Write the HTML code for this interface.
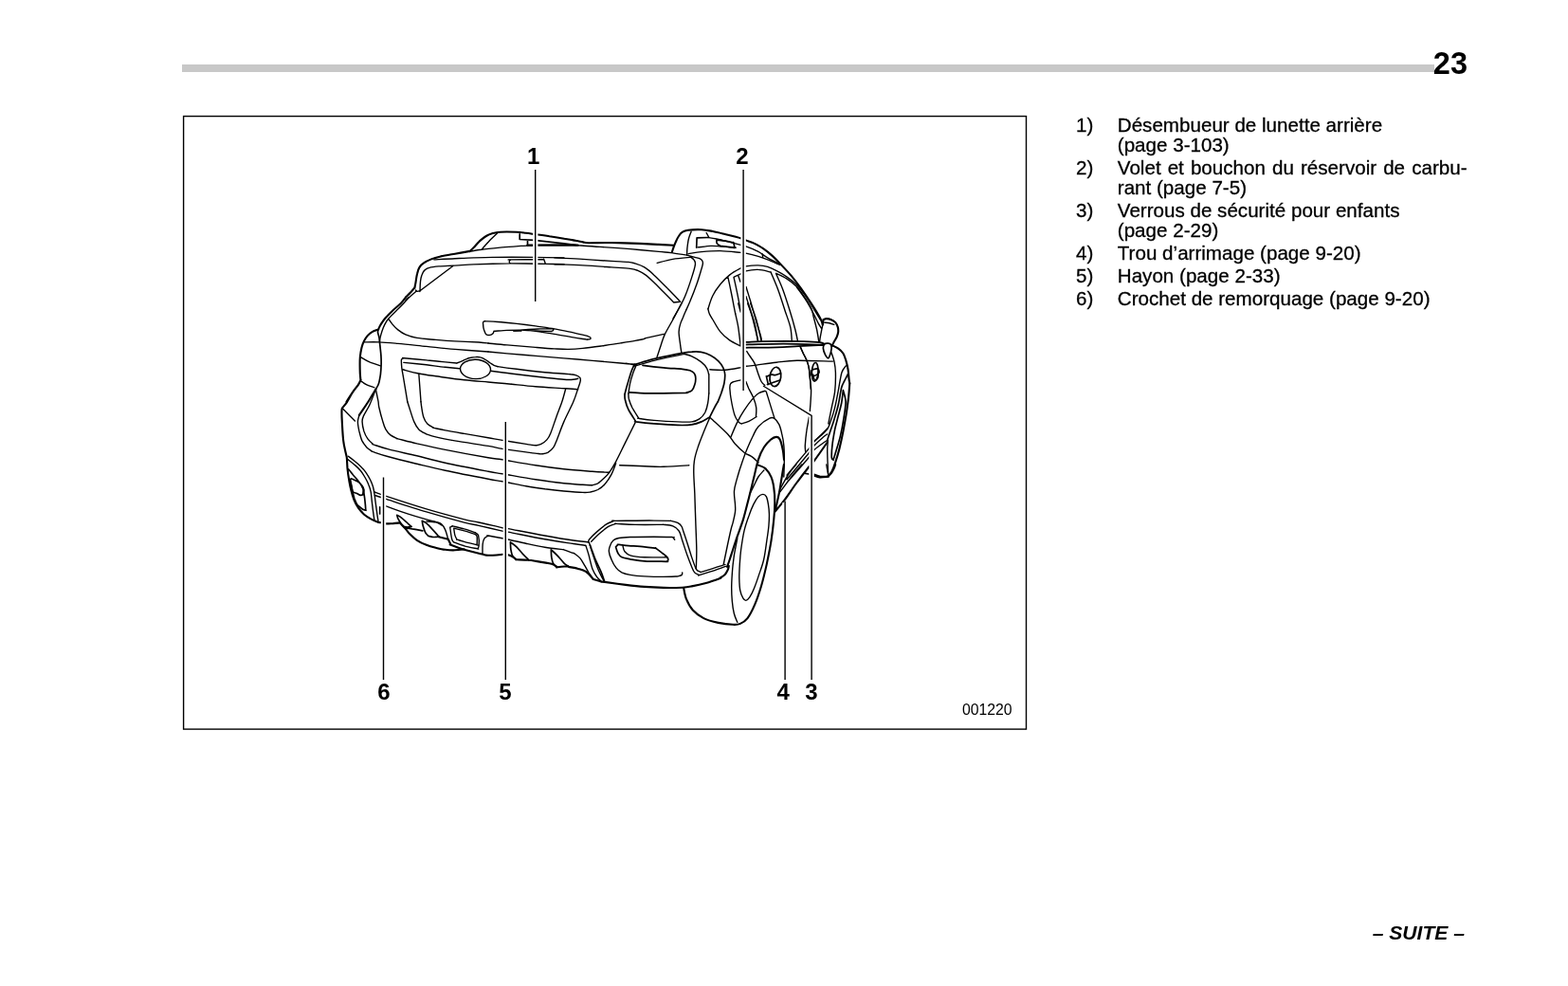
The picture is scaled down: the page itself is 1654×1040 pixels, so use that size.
<!DOCTYPE html>
<html lang="fr">
<head>
<meta charset="utf-8">
<title>23</title>
<style>
html,body{margin:0;padding:0;background:#fff;}
body{width:1654px;height:1040px;position:relative;overflow:hidden;font-family:"Liberation Sans",sans-serif;color:#000;}
.bar{position:absolute;left:192px;top:68px;width:1320.5px;height:8px;background:#c8c8c8;}
.pg{will-change:transform;position:absolute;left:1448px;width:100px;top:49px;font-size:32.5px;line-height:36px;font-weight:bold;text-align:right;white-space:nowrap;}
.fig{will-change:transform;position:absolute;left:0;top:0;width:1654px;height:1040px;}
.list{position:absolute;left:0;top:0;width:1654px;height:400px;will-change:transform;margin:0;padding:0;list-style:none;font-size:20.6px;line-height:24px;}
.list li{margin:0;padding:0;}
.list span{position:absolute;white-space:nowrap;-webkit-text-stroke:0.3px #000;}
.list .n{left:1135px;}
.list .t{left:1178.8px;}
.suite{will-change:transform;position:absolute;left:1344.5px;width:200px;top:972px;font-size:21.1px;line-height:24px;font-weight:bold;font-style:italic;text-align:right;white-space:nowrap;}
svg text{font-family:"Liberation Sans",sans-serif;}
</style>
</head>
<body>
<div class="bar"></div>
<div class="pg">23</div>
<svg class="fig" viewBox="0 0 1654 1040" width="1654" height="1040">
<rect x="193.6" y="122.6" width="888.9" height="646.5" fill="none" stroke="#000" stroke-width="1.4"/>
<g id="car" fill="none" stroke="#000" stroke-width="1.1" stroke-linecap="round" stroke-linejoin="round">
<ellipse cx="501.5" cy="389.4" rx="16.0" ry="10.2" transform="rotate(2.0 501.5 389.4)" stroke-width="1.40" fill="none"/>
<ellipse cx="817.9" cy="397.4" rx="5.8" ry="10.2" transform="rotate(8.0 817.9 397.4)" stroke-width="1.70" fill="none"/>
<ellipse cx="859.7" cy="392.3" rx="3.3" ry="9.8" transform="rotate(3.0 859.7 392.3)" stroke-width="1.70" fill="none"/>
<path stroke-width="2.10" d="M428.0 313.6C429.0 312.6 432.4 309.2 434.0 307.5C435.6 305.8 436.9 304.0 437.5 303.3C437.5 303.3 437.3 304.2 437.5 303.3C437.6 302.4 438.1 300.3 438.5 297.8C438.9 295.4 439.3 291.5 440.0 288.9C440.6 286.2 441.3 283.8 442.5 281.9C443.6 280.0 444.9 278.8 447.0 277.4C449.0 276.0 451.9 274.6 454.9 273.4C457.9 272.2 460.8 271.4 464.9 270.4C469.1 269.5 474.7 268.6 479.9 267.7C485.0 266.8 493.2 265.4 495.8 264.9C495.8 264.9 495.2 265.6 495.8 264.9C496.5 264.3 498.2 262.7 499.8 260.9C501.5 259.2 503.7 256.4 505.8 254.4C508.0 252.5 510.5 250.4 512.8 249.0C515.1 247.5 517.3 246.7 519.8 246.0C522.3 245.3 523.6 244.9 527.8 244.7C531.9 244.5 540.2 244.6 544.7 244.8C549.2 245.0 551.4 245.4 554.7 245.8C558.0 246.2 560.5 246.6 564.7 247.2C568.8 247.7 574.6 248.4 579.6 249.2C584.7 249.9 592.4 251.2 595.0 251.7M595.0 251.7C596.6 252.0 601.6 252.8 605.0 253.4C608.3 254.1 612.3 255.0 614.9 255.4C617.6 255.9 615.9 256.1 620.9 256.2C625.9 256.3 635.9 255.9 644.9 256.0C653.8 256.2 666.5 256.6 674.8 256.9C683.1 257.3 688.8 257.6 694.7 257.9C700.7 258.2 708.0 258.6 710.7 258.7M708.8 265.9C709.1 265.1 709.9 262.6 710.5 260.9C711.1 259.3 711.6 257.9 712.5 255.9C713.4 253.9 714.7 250.8 716.0 249.0C717.2 247.1 718.3 245.7 720.0 244.7C721.6 243.6 722.6 243.1 725.9 242.7C729.3 242.3 735.6 242.0 739.9 242.2C744.2 242.4 747.7 243.2 751.9 244.0C756.0 244.8 759.9 245.8 764.8 247.0C769.7 248.2 777.6 250.1 781.3 251.2C785.0 252.2 784.5 252.6 786.8 253.4C789.0 254.3 791.8 255.0 794.8 256.4C797.8 257.9 801.4 259.7 804.7 261.9C808.1 264.2 811.7 267.2 814.7 269.9C817.7 272.6 819.4 274.4 822.7 277.9C826.0 281.4 831.0 286.5 834.7 290.9C838.3 295.2 841.2 299.0 844.7 303.8C848.1 308.6 852.2 314.6 855.6 319.8C859.0 325.0 863.0 331.5 865.0 335.3C867.0 339.0 867.4 341.2 867.8 342.4"/>
<path stroke-width="2.10" d="M428.0 313.6C427.1 314.7 425.0 317.8 422.8 320.0C420.6 322.2 417.5 324.5 414.8 327.0C412.2 329.5 409.0 332.5 406.9 335.0C404.7 337.5 403.2 339.8 401.9 341.9C400.5 344.1 399.4 346.7 398.9 347.6C398.9 347.6 399.9 347.3 398.9 347.6C397.9 348.0 394.7 348.9 392.9 349.9C391.1 351.0 389.4 352.3 387.9 353.9C386.4 355.6 385.0 357.7 383.9 359.9C382.8 362.1 382.1 364.2 381.4 366.9C380.8 369.5 380.2 372.9 379.9 375.9C379.6 378.9 379.6 381.9 379.6 384.8C379.6 387.8 379.7 391.1 379.8 393.8C380.0 396.5 380.3 399.8 380.4 401.0C380.4 401.0 380.8 400.2 380.4 401.0C380.0 401.8 379.3 403.7 377.9 405.8C376.5 407.9 374.0 410.8 371.9 413.8C369.9 416.8 366.5 422.1 365.5 423.8M867.8 342.4L868.6 337.2C868.6 337.2 868.0 337.3 868.6 337.2C869.1 337.0 870.4 336.1 871.8 336.1C873.2 336.1 875.3 336.5 876.9 337.2C878.5 337.8 880.1 338.7 881.3 340.1C882.4 341.4 883.3 343.4 883.8 345.1C884.3 346.8 884.3 348.5 884.2 350.2C884.0 351.9 883.4 353.6 882.7 355.3C882.0 357.0 880.7 358.8 879.8 360.4C879.0 362.0 878.0 364.2 877.6 365.0M877.1 364.0C878.3 364.6 882.3 366.2 884.3 367.6C886.4 369.1 888.1 370.7 889.4 372.7C890.7 374.8 891.5 377.2 892.3 380.0C893.1 382.8 893.9 386.0 894.5 389.4C895.0 392.8 895.3 397.8 895.6 400.3C895.9 402.8 896.2 403.6 896.3 404.2M380.4 401.0C380.0 401.8 379.3 403.7 377.9 405.8C376.5 407.9 373.9 410.8 371.9 413.8C370.0 416.8 368.0 421.0 366.2 423.8C364.3 426.6 361.8 429.3 361.0 430.5C361.0 430.5 361.1 430.0 361.0 430.5C360.9 430.9 360.5 430.5 360.5 433.0C360.4 435.4 360.5 439.6 360.8 444.9C361.1 450.2 361.5 459.5 362.2 464.9C362.8 470.3 364.0 474.3 364.6 477.3C365.2 480.3 365.4 479.9 365.8 482.7C366.1 485.5 366.2 490.4 366.5 494.2C366.9 498.1 367.4 501.9 368.1 505.8C368.7 509.6 369.5 513.7 370.4 517.3C371.3 520.9 372.2 524.2 373.5 527.3C374.7 530.4 376.3 533.2 378.1 535.8C379.9 538.3 382.1 540.8 384.2 542.7C386.4 544.6 388.8 546.0 391.2 547.3C393.5 548.6 396.3 549.7 398.1 550.4C399.9 551.1 400.4 551.0 401.9 551.3C403.5 551.6 405.2 552.2 407.4 552.4C409.5 552.5 412.4 552.2 414.8 552.1C417.3 551.9 420.7 551.5 421.8 551.4"/>
<path stroke-width="2.10" d="M396.4 410.5C395.8 411.4 394.2 414.1 392.9 416.3C391.6 418.5 390.7 420.2 388.4 423.8C386.1 427.4 380.5 435.6 378.9 437.9M767.0 597.8C767.5 596.5 768.8 592.9 769.8 590.0C770.8 587.0 771.8 583.7 773.0 580.0C774.2 576.3 775.2 573.2 777.0 567.8C778.8 562.5 781.8 555.0 784.0 547.9C786.1 540.7 788.1 532.1 790.0 524.9C791.8 517.8 793.3 511.7 794.9 505.0C796.6 498.3 798.1 490.3 799.9 484.8C801.7 479.3 803.7 475.3 805.9 471.8C808.1 468.3 810.7 465.7 812.9 463.8C815.0 462.0 817.2 460.9 818.9 460.9C820.5 460.9 821.7 461.5 822.8 463.8C824.0 466.2 825.1 471.3 825.8 474.8C826.5 478.3 826.8 483.1 827.0 484.8M817.4 539.9C819.1 537.7 824.1 531.9 827.9 526.9C831.6 521.9 835.7 515.6 839.8 510.0C844.0 504.3 850.6 495.8 852.8 493.0C855.0 490.2 852.1 494.2 853.1 493.0C854.1 491.9 855.6 490.5 858.8 486.1C862.1 481.7 870.4 469.8 872.7 466.5M826.9 490.0C826.4 492.5 825.2 500.0 824.4 505.0C823.5 510.0 823.0 514.4 821.9 519.9C820.8 525.4 818.6 534.9 817.9 537.9M896.3 404.2C896.1 406.5 895.7 412.9 895.2 418.1C894.6 423.3 893.8 429.2 892.9 435.4C891.9 441.5 890.6 448.6 889.4 455.0C888.2 461.3 886.7 468.0 885.4 473.4C884.0 478.8 882.7 483.2 881.3 487.3C880.0 491.3 878.6 495.1 877.3 497.7C875.9 500.2 873.9 502.0 873.3 502.8C873.3 502.8 874.7 502.7 873.3 502.8C871.8 502.9 867.0 503.6 864.6 503.4C862.2 503.2 859.8 502.0 858.8 501.7M381.9 512.7C382.2 513.3 383.3 515.1 383.5 516.5C383.7 517.9 383.1 520.4 383.1 521.2M421.8 551.4C422.8 552.5 426.0 555.8 427.8 557.9C429.6 559.9 430.8 561.9 432.8 563.8C434.8 565.8 437.0 568.0 439.8 569.8C442.6 571.7 446.4 573.5 449.8 574.8C453.1 576.2 456.4 577.0 459.7 577.8C463.1 578.6 466.4 579.4 469.7 579.8C473.0 580.2 476.4 580.4 479.7 580.3C483.0 580.2 488.0 579.5 489.7 579.3"/>
<path stroke-width="2.10" d="M462.7 566.3L472.7 568.8C472.7 568.8 472.2 567.8 472.7 568.8C473.2 569.8 475.2 573.8 475.7 574.8C475.7 574.8 473.4 574.0 475.7 574.8C478.0 575.7 484.0 578.1 489.7 579.8C495.3 581.5 505.4 583.8 509.6 584.8C513.8 585.8 511.6 585.8 515.0 585.8C518.4 585.8 527.4 585.0 529.9 584.8M535.9 585.3C536.6 585.5 538.4 586.0 539.9 586.8C541.4 587.6 544.1 589.7 544.9 590.3C544.9 590.3 542.9 590.2 544.9 590.3C546.9 590.4 553.6 590.5 556.9 590.8C560.2 591.0 560.7 591.1 564.9 591.8C569.0 592.4 578.0 593.7 581.8 594.8C585.6 595.9 586.8 597.7 587.8 598.3C587.8 598.3 586.0 598.4 587.8 598.3C589.6 598.1 596.7 597.3 598.8 597.3C600.8 597.2 598.1 597.5 600.0 597.9C601.9 598.3 607.0 599.1 610.0 599.9C613.0 600.7 615.3 601.1 618.0 602.9C620.6 604.7 624.6 609.5 625.9 610.9C625.9 610.9 624.6 610.5 625.9 610.9C627.3 611.3 631.9 612.9 633.9 613.4C635.9 613.9 633.6 613.3 637.9 613.9C642.2 614.5 652.9 616.0 659.9 616.9C666.8 617.7 673.2 618.4 679.8 618.9C686.5 619.4 693.1 619.7 699.8 619.9C706.4 620.0 714.7 619.9 719.7 619.7C724.7 619.4 725.5 619.2 729.7 618.4C733.8 617.6 739.7 616.3 744.7 614.9C749.6 613.5 757.1 610.8 759.6 609.9C762.1 609.0 759.0 610.1 759.8 609.4C760.7 608.8 763.5 607.4 764.8 605.9C766.2 604.5 767.1 602.4 767.8 600.9C768.5 599.5 768.6 597.6 768.8 597.0M800.0 490.6C801.3 491.2 805.4 492.3 807.7 494.4C809.9 496.5 812.0 499.7 813.5 503.1C814.9 506.4 815.7 510.1 816.3 514.6C817.0 519.1 817.3 524.6 817.3 530.0C817.3 535.4 817.0 540.6 816.3 547.3C815.7 554.0 814.7 562.4 813.5 570.4C812.2 578.4 810.4 587.4 808.7 595.4C806.9 603.4 805.0 611.4 802.9 618.5C800.8 625.5 798.6 632.1 796.2 637.7C793.8 643.3 791.0 648.8 788.5 652.1C785.9 655.5 783.3 656.8 780.8 657.9C778.2 659.0 776.9 659.0 773.1 658.8C769.2 658.7 762.8 658.0 757.7 656.9C752.6 655.8 746.8 654.4 742.3 652.1C737.8 649.9 733.8 646.8 730.8 643.5C727.7 640.1 725.6 635.8 724.0 631.9C722.4 628.1 721.6 622.3 721.2 620.4"/>
<path stroke-width="2.10" d="M858.8 500.5C859.8 500.8 862.4 502.1 864.8 502.5C867.1 502.8 870.8 503.1 872.8 502.5C874.7 501.9 875.6 500.4 876.7 499.0C877.9 497.6 879.0 495.5 879.7 494.0C880.5 492.5 881.0 490.7 881.2 490.0"/>
<path stroke-width="1.40" d="M524.3 246.2C522.9 247.5 518.5 251.6 515.8 254.4C513.1 257.3 509.3 261.8 508.0 263.2M496.0 265.1C498.0 264.8 502.4 263.9 508.0 263.2C513.6 262.5 522.8 261.6 529.8 260.9C536.7 260.3 544.1 259.8 549.7 259.4C555.4 259.1 561.4 258.9 563.7 258.7M457.9 273.9C461.6 273.7 472.9 273.0 479.9 272.7C486.9 272.4 493.2 272.1 499.8 271.9C506.5 271.7 513.1 271.5 519.8 271.4C526.4 271.3 532.4 271.2 539.7 271.2C547.1 271.2 554.5 271.3 563.7 271.4C572.9 271.5 589.8 271.8 595.0 271.9M438.5 306.0C438.7 306.2 439.2 307.2 440.0 307.3C440.7 307.5 442.5 306.9 443.0 306.8C443.0 306.8 442.9 308.5 443.0 306.8C443.1 305.2 443.1 299.7 443.5 296.8C443.8 294.0 444.2 291.9 445.0 289.9C445.7 287.9 446.6 286.1 448.0 284.9C449.3 283.6 450.5 283.0 452.9 282.4C455.4 281.7 458.8 281.3 462.9 280.9C467.1 280.5 471.7 280.4 477.9 280.1C484.0 279.8 492.8 279.2 499.8 278.9C506.8 278.6 513.5 278.4 519.8 278.2C526.1 278.0 531.9 277.9 537.7 277.9C543.6 277.9 548.4 277.9 554.7 278.0C561.0 278.1 568.7 278.3 575.5 278.4C582.2 278.5 591.7 278.6 595.0 278.7M443.0 306.8L477.9 280.5M428.0 316.8L439.0 307.3M538.5 277.9C538.4 277.7 537.6 277.4 537.4 276.9C537.3 276.4 537.2 275.6 537.4 275.1C537.7 274.6 538.5 274.1 538.7 273.9C538.7 273.9 532.9 273.9 538.7 273.9C544.6 273.8 567.8 273.7 573.7 273.6C573.7 273.6 573.4 272.8 573.7 273.6C574.0 274.4 575.2 277.6 575.5 278.4M607.9 258.6C612.1 258.9 623.4 259.8 632.9 260.4C642.4 261.1 654.5 261.8 664.8 262.6C675.1 263.5 687.6 264.8 694.7 265.4C701.9 266.1 702.7 266.0 707.7 266.6C712.7 267.2 721.8 268.7 724.7 269.1"/>
<path stroke-width="1.40" d="M585.0 271.9C590.0 272.2 605.0 272.8 614.9 273.4C624.9 274.0 636.9 274.9 644.9 275.4C652.8 275.9 658.7 276.0 662.8 276.4C667.0 276.8 667.0 277.0 669.8 277.9C672.6 278.8 676.4 279.9 679.8 281.9C683.1 283.9 685.6 286.0 689.7 289.9C693.9 293.7 700.1 300.1 704.7 304.8C709.4 309.6 715.5 316.0 717.7 318.3M585.0 278.7C590.0 278.9 605.0 279.4 614.9 279.9C624.9 280.4 636.5 281.3 644.9 281.9C653.2 282.5 660.2 282.8 664.8 283.4C669.5 284.0 670.1 284.3 672.8 285.4C675.4 286.5 677.9 287.8 680.8 289.9C683.6 291.9 686.6 294.8 689.7 297.8C692.9 300.8 696.2 304.3 699.7 307.8C703.2 311.3 708.9 317.1 710.7 319.0M710.7 319.0L717.7 318.3M693.2 277.4C696.0 276.7 704.0 274.4 709.7 273.4C715.4 272.4 724.7 271.7 727.7 271.4M724.6 269.1C726.0 269.5 730.6 270.8 732.9 271.4C735.2 272.0 737.1 272.3 738.4 272.9C739.7 273.5 740.2 274.1 740.7 274.9C741.2 275.7 741.5 276.4 741.4 277.9C741.3 279.4 741.0 280.2 739.9 283.9C738.8 287.5 736.9 294.2 734.9 299.8C732.9 305.5 729.8 313.3 727.9 317.8C726.1 322.3 724.6 325.3 723.9 326.8M728.4 271.1C729.0 271.6 731.1 272.6 731.9 273.9C732.8 275.2 733.8 275.9 733.4 278.9C733.1 281.9 731.7 286.4 729.9 291.9C728.2 297.3 725.1 306.5 722.9 311.8C720.8 317.1 719.1 319.7 717.0 323.8C714.8 327.9 711.1 334.2 710.0 336.2M729.1 244.2C728.7 245.5 727.1 249.0 726.4 252.0C725.7 254.9 725.2 259.1 724.9 261.9C724.6 264.8 724.7 267.9 724.6 269.1M746.9 250.5C748.4 250.7 752.0 251.1 755.9 252.0C759.7 252.8 764.7 254.1 769.8 255.4C775.0 256.8 781.8 258.3 786.8 259.9C791.8 261.6 795.9 263.4 799.8 265.4C803.6 267.4 805.9 269.7 809.7 271.9C813.6 274.1 820.5 277.6 822.7 278.7"/>
<path stroke-width="1.40" d="M745.1 245.5L747.9 250.5M735.9 260.9C738.2 260.7 745.9 259.6 749.9 259.4C753.9 259.3 755.7 259.6 759.9 259.9C764.0 260.3 772.3 261.3 774.8 261.6M726.1 267.7C728.4 267.4 734.3 266.1 739.9 265.6C745.5 265.1 753.0 264.5 759.9 264.6C766.8 264.8 776.8 266.0 781.3 266.4C785.8 266.8 783.7 266.5 786.8 267.1C789.9 267.8 795.9 269.3 799.8 270.4C803.6 271.5 805.9 272.4 809.7 273.9C813.6 275.4 820.5 278.5 822.7 279.4M804.2 267.9L804.7 271.6M746.9 325.8C747.7 323.4 749.7 316.1 751.9 311.8C754.0 307.5 756.9 303.5 759.9 299.8C762.8 296.2 766.3 292.7 769.8 289.9C773.4 287.0 778.5 284.4 781.3 282.9C784.1 281.4 783.7 281.4 786.8 280.9C789.9 280.4 795.9 279.8 799.8 279.9C803.6 280.0 806.4 280.4 809.7 281.4C813.1 282.4 816.4 284.1 819.7 285.9C823.0 287.6 826.4 289.5 829.7 291.9C833.0 294.2 836.3 296.5 839.7 299.8C843.0 303.2 846.3 307.2 849.6 311.8C853.0 316.5 857.1 323.6 859.6 327.8C862.2 331.9 864.1 335.3 865.0 336.7M774.3 292.1C775.5 291.5 779.2 289.9 781.3 288.9C783.4 287.8 783.7 286.6 786.8 285.9C789.9 285.1 795.4 284.2 799.8 284.4C804.1 284.5 810.6 286.5 812.7 286.9M767.7 291.6C768.4 294.5 770.4 304.0 771.4 309.0C772.5 314.1 773.2 318.2 773.9 321.8C774.6 325.4 775.4 329.3 775.7 330.8M774.0 292.4C774.7 295.3 776.6 304.1 777.8 309.8C779.0 315.5 780.5 323.9 781.0 326.8M778.8 290.9L781.0 297.3M787.0 302.5C787.7 305.0 789.9 311.8 791.7 317.7C793.4 323.7 795.7 331.8 797.5 338.0C799.3 344.3 801.6 351.4 802.6 355.0C803.5 358.7 803.0 359.2 803.1 360.0M787.0 312.6C787.7 315.1 790.0 322.0 791.7 327.2C793.3 332.4 795.5 338.4 796.7 343.8C798.0 349.3 799.0 357.3 799.4 360.0"/>
<path stroke-width="1.40" d="M813.1 286.9C814.3 290.0 818.2 298.7 820.7 305.4C823.2 312.1 825.8 320.5 827.9 327.2C830.1 333.8 832.5 339.8 833.8 345.3C835.0 350.8 835.1 357.6 835.3 360.0M818.5 288.3C819.7 291.2 823.4 298.9 825.8 305.4C828.2 311.9 830.8 320.1 833.0 327.2C835.2 334.2 837.4 342.0 838.8 347.5C840.2 353.0 841.1 357.9 841.5 360.0M818.7 288.4C820.5 289.3 826.2 291.6 829.7 293.9C833.2 296.1 836.7 298.8 839.7 301.8C842.7 304.8 845.0 308.0 847.6 311.8C850.3 315.6 853.9 321.2 855.6 324.8C857.4 328.4 857.0 329.7 858.0 333.5C859.0 337.4 860.7 343.5 861.7 348.0C862.6 352.6 863.5 358.6 863.8 360.7M431.0 313.8C430.1 314.8 428.0 317.6 425.8 320.0C423.6 322.4 420.5 325.3 417.8 328.0C415.2 330.6 411.9 333.6 409.9 336.0C407.9 338.3 407.0 339.9 405.9 342.1C404.7 344.4 403.7 347.1 402.9 349.4C402.1 351.7 401.5 354.0 401.1 355.9C400.7 357.8 400.5 360.1 400.4 360.9M383.9 360.9C386.6 360.9 393.9 360.7 399.9 360.9C405.9 361.2 411.5 361.7 419.8 362.4C428.1 363.1 439.8 364.4 449.8 365.4C459.7 366.4 468.8 367.5 479.7 368.4C490.6 369.3 509.1 370.5 515.0 371.0M380.9 376.9C382.4 377.7 386.5 380.4 389.9 381.9C393.3 383.3 399.5 385.2 401.4 385.8M380.4 401.8C381.5 402.5 384.5 404.6 386.9 405.8C389.3 407.0 393.6 408.3 394.9 408.8M409.9 336.5C410.5 337.4 412.2 340.0 413.8 341.9C415.5 343.9 417.5 346.1 419.8 347.9C422.2 349.8 424.5 351.5 427.8 352.9C431.1 354.3 434.5 355.5 439.8 356.4C445.1 357.3 453.1 357.8 459.7 358.4C466.4 359.0 472.1 359.5 479.7 359.9C487.2 360.3 499.1 360.7 505.0 361.0C510.9 361.4 513.3 361.8 515.0 362.0M429.8 423.8C429.1 419.8 426.8 405.8 425.8 399.8C424.8 393.8 424.2 391.2 423.8 387.8C423.4 384.5 423.4 381.2 423.3 379.9C423.3 379.9 423.2 380.1 423.3 379.9C423.5 379.6 423.8 378.7 424.3 378.4C424.8 378.0 426.0 377.8 426.3 377.7C426.3 377.7 422.4 377.3 426.3 377.7C430.2 378.0 442.5 379.2 449.8 379.9C457.0 380.6 464.4 381.3 469.7 381.9C475.0 382.4 479.7 382.8 481.7 383.0C481.7 383.0 480.9 383.4 481.7 383.0C482.5 382.7 485.0 381.8 486.7 381.1C488.3 380.4 490.0 379.5 491.7 378.9C493.3 378.2 495.0 377.6 496.6 377.3C498.3 376.9 500.0 376.6 501.6 376.6C503.3 376.5 505.0 376.4 506.6 376.9C508.3 377.3 509.9 378.1 511.6 379.1C513.3 380.0 515.0 381.4 516.6 382.5C518.2 383.5 519.6 384.6 521.0 385.3C522.4 386.0 524.3 386.4 525.0 386.6"/>
<path stroke-width="1.40" d="M425.8 382.4C429.8 382.8 442.4 384.0 449.8 384.8C457.1 385.7 463.9 386.7 469.7 387.3C475.5 388.0 482.2 388.6 484.7 388.8M424.8 389.8C427.6 390.5 436.0 392.9 441.8 394.0C447.6 395.2 451.8 395.7 459.7 396.8C467.7 397.9 480.5 399.8 489.7 400.8C498.9 401.8 506.7 402.3 515.0 403.0C523.3 403.7 535.5 404.9 539.5 405.3M441.8 394.3L444.0 423.8M509.5 340.5C509.5 340.5 509.4 340.7 509.5 340.5C509.6 340.2 509.8 339.4 510.2 339.2C510.6 338.9 511.7 338.8 512.0 338.8C512.0 338.8 509.8 338.6 512.0 338.8C514.1 338.9 519.5 339.0 525.0 339.5C530.4 339.9 538.3 340.7 544.9 341.4C551.6 342.2 558.2 343.0 564.9 343.9C571.5 344.9 578.2 345.8 584.8 346.9C591.5 348.1 598.9 349.7 604.8 350.9C610.6 352.2 617.2 353.8 619.7 354.4C619.7 354.4 619.2 354.2 619.7 354.4C620.2 354.7 622.3 355.4 622.7 355.9C623.2 356.5 623.2 357.3 622.5 357.7C621.9 358.1 619.4 358.0 618.7 358.1C618.7 358.1 621.1 358.5 618.7 358.1C616.4 357.7 610.4 356.9 604.8 355.9C599.1 355.0 591.5 353.5 584.8 352.4C578.2 351.3 570.7 350.1 564.9 349.4C559.0 348.7 554.9 348.3 549.9 348.1C544.9 348.0 539.7 348.2 534.9 348.4C530.1 348.6 523.3 349.3 521.0 349.4C521.0 349.4 521.1 349.0 521.0 349.4C520.8 349.8 520.6 351.1 520.0 351.7C519.3 352.4 518.1 353.2 517.0 353.4C515.8 353.6 513.9 353.4 513.0 352.9C512.1 352.4 511.7 350.8 511.5 350.4C511.5 350.4 511.7 351.2 511.5 350.4C511.2 349.7 510.3 347.6 510.0 345.9C509.7 344.3 509.6 341.4 509.5 340.5M541.9 348.9C544.1 348.7 550.2 348.0 554.9 347.6C559.5 347.3 565.0 347.1 569.8 346.9C574.7 346.8 581.6 346.8 584.0 346.7C584.0 346.7 584.1 346.4 584.0 346.7C583.9 347.1 583.8 348.3 583.3 348.7C582.8 349.2 581.4 349.4 581.0 349.5C581.0 349.5 583.7 349.6 581.0 349.5C578.3 349.4 570.0 349.2 564.9 348.9C559.7 348.7 552.4 348.3 549.9 348.1"/>
<path stroke-width="1.40" d="M515.0 362.0C518.3 362.3 526.6 363.2 534.9 363.9C543.2 364.6 556.5 365.7 564.9 366.4C573.2 367.1 579.0 367.6 584.8 367.9C590.6 368.2 594.8 368.5 599.8 368.4C604.8 368.3 608.9 368.0 614.7 367.4C620.6 366.8 628.0 365.8 634.7 364.9C641.3 364.0 648.8 362.8 654.6 361.9C660.5 361.0 665.8 360.2 670.0 359.4C674.2 358.7 678.3 357.7 680.0 357.4M515.0 371.0C518.3 371.3 526.6 372.1 534.9 372.9C543.2 373.6 554.9 374.5 564.9 375.4C574.8 376.2 584.8 377.0 594.8 377.9C604.8 378.7 614.7 379.5 624.7 380.4C634.7 381.2 647.1 382.4 654.6 383.0C662.2 383.7 667.4 384.1 670.0 384.3M518.0 391.3C522.5 391.9 535.4 393.7 544.9 394.8C554.4 396.0 566.5 397.4 574.8 398.3C583.1 399.2 589.8 400.0 594.8 400.3C599.8 400.6 602.3 400.5 604.8 400.3C607.3 400.1 608.9 399.5 609.7 399.3M539.9 405.3C544.1 405.7 555.4 407.0 564.9 407.8C574.3 408.5 589.3 409.3 596.8 409.8C604.3 410.3 607.6 410.6 609.7 410.8M680.0 356.9L701.4 352.1M718.9 320.0C717.4 322.8 712.8 331.6 709.9 337.0C707.0 342.4 703.6 347.8 701.4 352.4C699.2 357.1 698.3 360.8 696.9 364.9C695.5 369.0 693.6 375.0 692.9 377.1M723.9 326.8C723.3 328.1 721.4 332.4 720.4 335.0C719.3 337.5 718.3 339.5 717.6 341.9C716.8 344.4 716.1 346.6 716.1 349.9C716.0 353.3 716.9 358.2 717.4 361.9C717.8 365.6 718.6 370.4 718.9 372.1M660.0 383.3L669.0 384.8M663.0 415.0C663.2 413.3 663.7 408.5 664.5 404.8C665.3 401.1 666.9 396.0 668.0 392.8C669.1 389.6 670.5 386.8 671.0 385.6C671.0 385.6 667.8 386.5 671.0 385.6C674.1 384.8 683.4 382.0 689.9 380.4C696.4 378.7 704.6 377.0 709.9 375.9C715.2 374.7 719.9 373.8 721.9 373.4C721.9 373.4 720.5 373.0 721.9 373.4C723.2 373.8 726.8 374.5 729.8 375.9C732.8 377.3 737.1 379.7 739.8 381.9C742.5 384.0 744.5 386.5 745.8 388.8C747.1 391.2 747.5 394.7 747.8 395.8C747.8 395.8 747.8 392.6 747.8 395.8C747.8 399.0 747.8 411.8 747.8 415.0"/>
<path stroke-width="1.40" d="M748.8 389.8C751.4 389.9 759.3 390.7 764.7 390.3C770.2 390.0 778.9 388.1 781.7 387.6M746.9 325.8C747.1 326.7 747.5 329.1 748.3 331.0C749.1 332.8 749.9 333.8 751.8 337.0C753.7 340.1 756.8 346.3 759.8 349.9C762.8 353.6 766.2 356.4 769.7 358.9C773.3 361.4 779.3 363.9 781.2 364.9M775.7 330.8C776.2 333.1 777.8 339.3 778.7 344.9C779.6 350.6 780.8 361.6 781.2 364.9M778.7 320.0L781.2 329.0M788.7 320.0C789.5 322.5 791.9 328.3 793.7 335.0C795.5 341.6 798.7 355.7 799.7 359.9M791.7 320.0C792.7 322.8 795.8 330.3 797.7 337.0C799.6 343.6 802.2 356.1 803.2 359.9M840.6 303.1C842.3 305.5 847.9 313.0 850.8 317.6C853.7 322.2 856.0 326.8 858.0 330.6C860.1 334.5 861.6 338.1 863.1 340.8C864.6 343.5 866.3 345.9 866.9 347.0M867.8 342.4C867.7 343.3 867.2 345.9 866.7 348.0C866.3 350.2 865.7 353.1 865.3 355.3C864.9 357.5 864.7 360.1 864.6 361.1M869.7 340.1C870.5 340.2 873.0 340.4 874.7 340.8C876.4 341.2 879.0 342.1 879.8 342.4M877.1 372.0C877.5 373.6 879.2 377.9 880.0 381.4C880.7 384.9 881.3 387.9 881.4 393.0C881.5 398.2 881.4 406.2 880.7 412.3C880.1 418.4 878.4 423.8 877.3 429.6C876.1 435.4 874.4 444.0 873.8 446.9M892.3 385.8C891.6 387.0 889.3 388.6 887.9 393.0C886.6 397.5 885.4 406.2 884.2 412.3C883.0 418.4 882.1 424.2 880.7 429.6C879.4 435.0 877.5 440.8 876.1 444.6C874.8 448.4 874.4 450.2 872.7 452.7C870.9 455.2 868.1 457.5 865.8 459.6C863.4 461.7 860.0 464.4 858.8 465.4M787.2 386.3C789.0 386.1 792.7 385.8 798.0 385.1C803.3 384.4 811.9 382.9 819.0 382.2C826.2 381.4 830.9 380.5 840.8 380.3C850.7 380.2 872.2 381.0 878.5 381.1"/>
<path stroke-width="1.40" d="M844.1 365.5C844.6 366.7 846.2 370.3 847.3 372.7C848.5 375.1 850.0 377.6 850.9 380.0C851.9 382.4 852.6 384.5 853.1 387.2C853.7 390.0 853.8 392.8 854.2 396.7C854.6 400.5 855.1 408.2 855.3 410.5M787.8 370.6C788.2 371.2 788.7 372.1 790.0 374.2C791.3 376.2 794.2 379.7 795.8 382.9C797.4 386.0 798.2 389.8 799.4 393.0C800.6 396.3 801.6 400.1 803.1 402.5C804.5 404.9 806.7 406.2 808.1 407.6C809.6 408.9 811.2 410.0 811.8 410.5M361.5 431.0L374.4 443.9M378.9 437.9C378.7 439.1 377.4 442.1 377.4 444.9C377.4 447.8 378.2 451.6 378.9 454.9C379.7 458.2 380.6 462.1 381.9 464.9C383.3 467.7 385.1 470.0 386.9 471.9C388.7 473.8 391.9 475.6 392.9 476.4C392.9 476.4 390.1 475.4 392.9 476.4C395.7 477.3 402.0 479.7 409.9 481.8C417.7 484.0 429.8 486.9 439.8 489.3C449.8 491.7 457.2 493.6 469.7 496.3C482.2 499.0 505.0 503.4 515.0 505.3C525.0 507.2 523.3 506.5 529.9 507.8C536.6 509.0 547.4 511.4 554.9 512.8C562.4 514.1 568.2 514.9 574.8 515.8C581.5 516.6 588.1 517.3 594.8 518.0C601.4 518.6 610.1 519.3 614.7 519.4C619.4 519.6 620.1 519.4 622.7 519.0C625.4 518.5 628.2 517.8 630.7 516.5C633.2 515.1 635.4 513.6 637.7 511.0C640.0 508.4 642.7 504.5 644.7 500.8C646.7 497.1 648.8 490.8 649.7 488.8M396.4 410.5C395.3 413.2 392.1 422.2 389.9 427.0C387.7 431.7 384.7 435.9 383.4 438.9C382.1 441.9 382.0 442.3 382.1 444.9C382.2 447.6 383.0 451.9 383.9 454.9C384.9 457.9 386.2 460.6 387.9 462.9C389.6 465.2 392.9 467.9 393.9 468.9C393.9 468.9 391.2 468.0 393.9 468.9C396.6 469.7 402.2 471.9 409.9 473.9C417.5 475.9 429.8 478.4 439.8 480.8C449.8 483.3 457.2 485.6 469.7 488.3C482.2 491.1 505.0 495.4 515.0 497.3C525.0 499.2 521.6 498.4 529.9 499.8C538.2 501.2 554.0 504.1 564.9 505.8C575.7 507.4 586.5 508.9 594.8 509.8C603.1 510.7 609.7 510.9 614.7 511.3C619.7 511.6 623.1 511.7 624.7 511.8C624.7 511.8 623.7 512.1 624.7 511.8C625.7 511.4 628.7 510.9 630.7 509.8C632.7 508.6 634.7 506.7 636.7 504.8C638.7 502.9 640.5 501.3 642.7 498.3C644.8 495.3 646.8 492.1 649.7 486.8C652.5 481.6 656.2 473.7 659.6 466.9C663.0 460.1 668.3 449.4 670.0 445.9"/>
<path stroke-width="1.40" d="M396.4 410.3C396.6 411.4 397.2 414.5 397.7 416.8C398.1 419.0 398.7 421.6 399.1 423.8C399.4 426.0 399.1 426.4 399.9 430.0C400.7 433.5 402.7 441.1 403.9 444.9C405.0 448.8 405.5 450.6 406.9 452.9C408.2 455.2 409.7 457.2 411.9 458.9C414.0 460.6 418.5 462.2 419.8 462.9C419.8 462.9 416.5 462.1 419.8 462.9C423.2 463.7 431.5 466.0 439.8 467.9C448.1 469.8 457.2 471.9 469.7 474.4C482.2 476.9 505.0 481.1 515.0 482.8C525.0 484.6 521.6 483.5 529.9 484.8C538.2 486.2 554.0 489.2 564.9 490.8C575.7 492.5 584.8 493.7 594.8 494.8C604.8 495.9 616.7 496.7 624.7 497.3C632.7 497.9 639.7 498.1 642.7 498.3M429.8 423.8C430.1 424.8 430.6 426.4 431.8 430.0C433.0 433.5 435.1 441.1 436.8 444.9C438.5 448.8 439.6 450.7 441.8 452.9C443.9 455.1 448.4 457.1 449.8 457.9C449.8 457.9 448.1 457.4 449.8 457.9C451.4 458.4 454.7 459.7 459.7 460.9C464.7 462.1 470.5 463.3 479.7 464.9C488.9 466.5 506.6 469.0 515.0 470.4C523.4 471.8 523.3 472.3 529.9 473.4C536.6 474.4 548.6 476.0 554.9 476.9C561.2 477.7 565.0 478.2 567.8 478.5C570.7 478.9 570.2 479.0 571.8 478.8C573.5 478.6 575.8 478.5 577.8 477.4C579.8 476.2 582.1 474.3 583.8 471.9C585.5 469.5 586.0 467.4 587.8 462.9C589.6 458.4 592.0 451.4 594.8 444.9C597.6 438.4 602.3 429.6 604.8 423.8C607.3 417.9 608.5 413.4 609.7 409.8C611.0 406.1 611.9 403.7 612.2 401.8C612.6 399.9 612.5 399.3 611.7 398.3C611.0 397.3 609.7 396.4 607.8 395.8C605.8 395.2 601.1 394.8 599.8 394.6C599.8 394.6 603.9 394.9 599.8 394.6C595.6 394.3 584.0 393.7 574.8 392.8C565.7 391.9 553.2 390.4 544.9 389.3C536.6 388.3 528.3 387.1 525.0 386.6"/>
<path stroke-width="1.40" d="M444.0 423.8C444.1 424.8 444.3 427.3 444.8 430.0C445.2 432.7 445.8 437.1 446.8 439.9C447.8 442.8 448.9 445.0 450.8 446.9C452.6 448.8 456.6 450.7 457.7 451.4C457.7 451.4 455.7 451.0 457.7 451.4C459.7 451.8 464.4 452.9 469.7 453.9C475.0 454.9 482.1 456.1 489.7 457.4C497.2 458.7 508.3 460.5 515.0 461.7C521.7 462.9 523.3 463.3 529.9 464.4C536.6 465.5 549.6 467.5 554.9 468.4C560.2 469.2 560.0 469.3 561.9 469.5C563.7 469.7 564.4 469.9 565.9 469.7C567.4 469.5 569.0 469.3 570.8 468.4C572.7 467.4 575.2 465.8 576.8 463.9C578.5 462.0 579.2 460.9 580.8 456.9C582.5 452.9 584.8 445.5 586.8 439.9C588.8 434.4 591.1 428.8 592.8 423.8C594.5 418.8 596.1 412.1 596.8 409.8M662.9 415.0C663.0 416.0 662.8 418.5 663.4 421.0C664.1 423.5 665.2 426.6 666.9 430.0C668.7 433.4 672.8 439.5 673.9 441.4C673.9 441.4 671.3 441.1 673.9 441.4C676.6 441.8 683.1 442.8 689.9 443.4C696.7 444.0 708.2 444.7 714.8 444.9C721.5 445.2 726.0 445.4 729.8 444.9C733.6 444.4 735.4 443.6 737.8 441.9C740.1 440.3 742.3 437.8 743.8 435.0C745.2 432.1 746.1 428.3 746.7 425.0C747.4 421.7 747.6 416.7 747.7 415.0M653.7 490.8C658.0 491.0 672.2 491.6 679.9 491.8C687.6 492.1 692.0 492.5 699.9 492.3C707.7 492.1 722.3 491.1 726.8 490.8M748.7 440.4C747.6 443.2 743.9 451.5 741.8 456.9C739.6 462.3 737.3 467.9 735.8 472.9C734.2 477.8 732.9 482.3 732.3 486.8C731.6 491.3 731.7 494.3 731.8 499.8C731.9 505.3 732.4 511.6 732.8 520.0C733.1 528.3 733.4 539.9 733.8 549.9C734.1 559.9 734.7 571.5 734.8 579.8C734.9 588.1 734.4 596.4 734.3 599.8M749.7 440.9C752.7 443.8 763.5 453.4 767.7 457.9C771.9 462.4 772.0 464.4 775.0 467.7C778.0 471.0 782.7 475.5 785.6 477.8C788.5 480.0 789.9 479.5 792.3 481.2C794.7 482.8 798.7 486.8 800.0 487.9"/>
<path stroke-width="1.40" d="M786.9 402.5C787.4 403.7 788.6 407.1 789.9 410.0C791.3 412.9 793.6 416.6 794.9 420.0C796.2 423.3 797.3 426.6 797.7 429.9C798.1 433.3 797.5 438.2 797.4 439.9C797.4 439.9 798.7 439.2 797.4 439.9C796.2 440.7 792.5 443.2 789.9 444.4C787.4 445.6 783.3 446.5 781.9 446.9C781.9 446.9 782.4 447.2 781.9 446.9C781.4 446.6 780.1 446.4 779.0 444.9C777.8 443.4 776.3 442.1 775.0 437.9C773.6 433.8 771.8 424.8 771.0 420.0C770.1 415.1 770.0 410.8 769.8 409.0C769.8 409.0 769.7 409.6 769.8 409.0C769.9 408.3 769.9 406.0 770.5 405.0C771.0 404.0 771.1 403.7 773.0 403.0C774.8 402.3 780.0 401.2 781.4 400.8M807.9 412.0C806.6 412.5 802.4 413.3 799.9 415.0C797.4 416.6 795.4 419.0 792.9 421.9C790.4 424.9 787.4 429.1 784.9 432.9C782.4 436.7 780.3 440.2 778.0 444.9C775.6 449.5 772.1 458.2 771.0 460.9M807.9 412.0C808.6 414.1 810.4 420.1 811.9 424.9C813.4 429.8 816.0 438.2 816.9 440.9M763.3 595.0C764.5 589.1 769.0 567.3 770.7 560.0C772.3 552.7 772.3 554.7 773.1 551.3C773.9 548.0 775.1 543.0 775.5 539.8C775.9 536.6 775.6 535.8 775.5 532.1C775.3 528.4 774.1 522.5 774.5 517.7C774.9 512.9 776.5 508.2 777.9 503.3C779.2 498.3 780.9 493.0 782.7 487.9C784.5 482.8 786.5 477.1 788.5 472.5C790.4 467.9 792.3 463.8 794.2 460.0C796.1 456.2 797.0 453.0 799.9 449.9C802.8 446.7 809.0 442.5 811.9 441.1C814.7 439.7 815.2 440.3 816.9 441.4C818.5 442.5 820.5 445.1 821.9 447.9C823.2 450.6 824.0 454.2 824.8 457.9C825.7 461.5 826.4 465.3 826.8 469.8C827.3 474.3 827.3 479.3 827.3 484.8C827.3 490.3 826.9 499.9 826.8 503.0M844.1 365.5C844.6 366.7 846.2 370.3 847.3 372.7C848.5 375.1 850.0 377.6 850.9 380.0C851.9 382.4 852.6 384.5 853.1 387.2C853.7 390.0 853.8 392.8 854.2 396.7C854.6 400.5 855.4 406.6 855.6 410.5C855.7 414.4 855.5 416.0 855.3 420.0C855.1 423.9 854.6 430.4 854.3 433.9C853.9 437.4 853.9 437.4 853.3 440.9C852.7 444.4 851.4 450.0 850.8 454.9C850.1 459.7 849.5 466.2 849.3 469.8C849.1 473.5 849.7 475.7 849.8 476.8"/>
<path stroke-width="1.40" d="M830.0 501.1C831.9 498.8 837.7 491.9 841.5 487.3C845.4 482.7 850.2 477.0 853.1 473.4C856.0 469.9 855.6 469.5 858.8 465.9C862.1 462.4 870.4 454.4 872.7 452.1M830.0 505.7C833.8 501.1 848.3 484.0 853.1 478.0C857.9 472.1 856.3 472.8 858.8 470.0C861.3 467.2 865.8 463.3 868.1 461.3C870.4 459.3 871.9 458.4 872.7 457.9M830.0 509.2C833.8 504.8 848.3 488.4 853.1 482.7C857.9 476.9 855.6 477.7 858.8 474.6C862.1 471.5 870.4 465.9 872.7 464.2M839.8 490.0C838.5 491.7 834.7 495.7 831.9 500.0C829.0 504.3 824.4 513.3 822.9 515.9M845.8 490.0C844.0 492.2 838.7 498.1 834.8 503.0C831.0 507.8 824.9 516.3 822.9 518.9M873.3 464.2C873.2 466.1 872.7 470.9 872.7 475.7C872.7 480.5 873.1 488.5 873.3 493.0C873.4 497.6 873.7 501.2 873.8 502.8M857.7 395.0C857.9 395.8 858.3 398.7 858.8 399.6C859.4 400.6 860.5 401.0 861.1 400.8C861.8 400.6 862.5 399.4 862.9 398.5C863.2 397.5 863.2 395.6 863.2 395.0M367.3 481.2C368.5 482.1 372.1 484.7 374.2 486.5C376.4 488.3 378.5 490.0 380.4 491.9C382.3 493.8 384.1 495.8 385.8 498.1C387.4 500.4 389.1 503.2 390.4 505.8C391.7 508.3 392.7 510.9 393.5 513.5C394.2 516.0 394.5 517.9 395.0 521.2C395.5 524.4 396.0 528.8 396.5 532.7C397.1 536.5 397.6 541.2 398.1 544.2C398.5 547.2 399.0 549.7 399.2 550.8M366.5 484.2C367.8 485.3 371.9 488.3 374.2 490.4C376.5 492.4 378.6 494.4 380.4 496.5C382.2 498.7 383.6 501.0 385.0 503.5C386.4 505.9 387.8 508.6 388.8 511.2C389.9 513.7 390.6 515.9 391.2 518.8C391.7 521.8 391.9 525.5 392.3 528.8C392.7 532.2 393.0 535.5 393.5 538.8C393.9 542.2 394.7 547.2 395.0 548.8"/>
<path stroke-width="1.40" d="M394.9 519.0C397.0 519.7 398.2 520.5 407.4 523.4C416.5 526.4 436.0 532.8 449.8 536.9C463.5 541.0 480.5 545.5 489.7 547.9C498.9 550.2 498.3 549.5 505.0 551.0C511.7 552.4 524.8 555.6 529.9 556.7C535.1 557.8 528.4 556.2 535.9 557.6C543.4 559.0 563.4 563.0 574.8 565.0C586.3 567.1 597.1 568.9 604.8 570.0C612.4 571.2 618.1 571.5 620.7 571.8M395.4 522.4C397.4 523.1 398.3 523.5 407.4 526.4C416.4 529.3 436.0 535.8 449.8 539.9C463.5 544.0 480.5 548.7 489.7 551.1C498.9 553.5 498.3 552.9 505.0 554.4C511.7 555.9 524.8 558.9 529.9 560.1C535.1 561.2 528.4 559.6 535.9 561.1C543.4 562.5 563.4 566.8 574.8 568.8C586.3 570.9 597.6 572.4 604.8 573.5C611.9 574.6 615.6 575.0 617.7 575.3M407.4 533.9C411.1 535.2 422.7 539.6 429.8 541.9C436.9 544.2 444.8 546.5 449.8 547.9C454.7 549.3 457.1 549.5 459.7 550.4C462.4 551.2 464.1 551.5 465.7 552.9C467.4 554.3 468.5 556.2 469.7 558.9C470.9 561.5 472.2 567.2 472.7 568.8M449.8 549.9C451.4 550.0 457.1 550.2 459.7 550.9C462.4 551.5 464.7 553.4 465.7 553.9M474.7 556.1L477.7 554.9C477.7 554.9 475.7 554.4 477.7 554.9C479.7 555.4 485.7 556.7 489.7 557.9C493.7 559.0 499.6 561.2 501.6 561.9C501.6 561.9 501.1 561.4 501.6 561.9C502.1 562.4 504.0 562.5 504.6 564.8C505.2 567.2 505.3 573.5 505.1 575.8C505.0 578.1 503.9 578.3 503.6 578.8C503.6 578.8 506.0 579.3 503.6 578.8C501.3 578.3 493.8 577.0 489.7 575.8C485.5 574.7 480.5 572.5 478.7 571.8C478.7 571.8 479.0 572.3 478.7 571.8C478.4 571.3 477.4 571.5 476.7 568.8C476.0 566.2 475.0 558.2 474.7 556.1M478.7 557.1C480.5 557.5 486.0 558.8 489.7 559.9C493.3 560.9 498.8 562.8 500.6 563.3C500.6 563.3 500.2 562.9 500.6 563.3C501.1 563.8 502.7 563.9 503.1 565.8C503.5 567.8 503.1 573.3 503.1 574.8C503.1 574.8 505.4 575.4 503.1 574.8C500.9 574.2 493.2 572.3 489.7 571.3C486.1 570.3 483.0 569.3 481.7 568.8C481.7 568.8 482.0 569.7 481.7 568.8C481.4 568.0 480.2 565.8 479.7 563.8C479.2 561.9 478.9 558.2 478.7 557.1"/>
<path stroke-width="1.40" d="M509.0 584.3C509.0 582.6 508.9 576.6 509.2 573.8C509.5 571.1 510.0 569.3 511.0 567.8C511.9 566.4 514.3 565.5 515.0 565.0C515.0 565.0 512.5 564.6 515.0 565.0C517.5 565.5 526.4 567.2 529.9 567.8C533.4 568.5 531.8 568.1 535.9 569.0C540.1 569.9 548.4 571.9 554.9 573.3C561.4 574.7 568.2 576.2 574.8 577.3C581.5 578.4 591.5 579.4 594.8 579.8C594.8 579.8 593.5 579.3 594.8 579.8C596.1 580.3 600.9 582.1 602.8 582.8C604.6 583.5 604.5 582.9 606.0 583.9C607.5 585.0 610.1 586.8 612.0 588.9C613.8 591.1 615.5 594.4 617.0 596.9C618.5 599.4 619.5 601.6 620.9 603.9C622.4 606.2 625.1 609.7 625.9 610.9M620.7 571.8C620.7 571.8 620.6 572.3 620.7 571.8C620.9 571.3 620.2 570.7 621.7 568.8C623.2 567.0 626.7 563.5 629.7 560.9C632.7 558.2 636.7 554.8 639.7 552.9C642.7 551.0 646.4 550.0 647.7 549.4C648.9 548.8 643.3 549.4 647.0 549.4C650.7 549.3 662.8 549.2 669.9 549.2C677.1 549.1 683.6 549.0 689.9 549.1C696.2 549.1 704.8 549.3 707.8 549.4C707.8 549.4 706.7 549.0 707.8 549.4C709.0 549.7 713.0 550.5 714.8 551.4C716.6 552.3 717.8 553.4 718.8 554.9C719.8 556.3 719.7 557.1 720.7 560.0C721.7 562.9 723.2 567.3 724.7 572.0C726.2 576.6 728.2 583.4 729.7 587.9C731.2 592.4 732.7 596.6 733.7 598.9C734.7 601.2 734.7 601.2 735.7 601.9C736.7 602.6 739.0 603.1 739.7 603.4C739.7 603.4 738.0 603.9 739.7 603.4C741.3 602.9 745.4 601.7 749.6 600.4C753.9 599.1 762.4 596.2 765.0 595.4M623.7 571.3C625.0 570.1 628.2 566.5 631.2 563.8C634.2 561.2 638.6 557.3 641.7 555.4C644.7 553.5 648.3 552.9 649.7 552.4C651.0 551.9 646.6 552.2 650.0 552.4C653.4 552.5 661.6 553.2 669.9 553.4C678.2 553.5 694.9 553.4 699.9 553.4C699.9 553.4 698.2 553.1 699.9 553.4C701.5 553.6 707.1 553.8 709.8 554.9C712.6 556.0 714.6 557.5 716.2 560.0C717.9 562.5 718.3 565.8 719.7 570.0C721.1 574.1 723.0 580.3 724.7 584.9C726.4 589.6 728.4 594.7 729.7 597.9C731.0 601.1 731.4 602.4 732.7 603.9C734.0 605.4 736.8 606.2 737.7 606.7C737.7 606.7 735.7 607.3 737.7 606.7C739.7 606.1 745.0 604.4 749.6 602.9C754.3 601.4 762.9 598.3 765.6 597.4"/>
<path stroke-width="1.40" d="M618.0 575.8C618.5 577.3 619.8 580.9 620.9 584.9C622.1 589.0 623.4 595.9 624.9 599.9C626.4 603.9 628.3 606.6 629.9 608.9C631.5 611.1 633.7 612.6 634.4 613.4M621.4 572.0C622.0 573.8 623.3 578.6 624.7 582.9C626.2 587.3 628.4 593.9 629.9 597.9C631.5 601.9 632.6 604.2 633.9 606.9C635.2 609.5 637.1 612.7 637.7 613.9M711.7 569.2L709.7 566.6C709.7 566.6 713.1 566.7 709.7 566.6C706.4 566.5 697.3 566.2 689.8 566.2C682.3 566.2 671.0 566.3 664.8 566.5C658.7 566.7 655.9 566.9 652.9 567.5C649.9 568.1 648.5 568.6 646.9 570.0C645.3 571.4 644.1 574.0 643.4 576.0C642.6 578.0 642.1 579.6 642.4 581.9C642.6 584.3 643.6 587.1 644.9 589.9C646.1 592.8 648.1 596.6 649.9 598.9C651.7 601.2 653.4 602.6 655.9 603.9C658.4 605.1 660.9 605.7 664.8 606.4C668.8 607.1 674.0 607.6 679.8 607.9C685.6 608.2 693.9 608.4 699.8 608.4C705.6 608.4 712.2 608.0 714.7 607.9C714.7 607.9 714.0 608.1 714.7 607.9C715.5 607.6 718.4 607.1 719.2 606.4C720.0 605.7 719.6 604.3 719.7 603.9M657.0 575.8C657.3 576.8 657.6 580.1 659.0 581.8C660.3 583.5 661.4 584.8 664.9 585.8C668.4 586.8 673.4 587.5 679.9 587.8C686.4 588.1 699.9 587.8 703.8 587.8M805.9 496.0C804.9 497.1 801.8 500.1 799.9 503.0C798.1 505.8 796.4 510.1 794.9 512.9C793.5 515.8 792.0 518.8 791.4 519.9M804.9 521.4C803.5 521.4 801.6 522.2 799.9 523.9C798.3 525.7 796.6 528.6 794.9 531.9C793.3 535.2 791.6 539.2 790.0 543.9C788.3 548.5 786.4 553.8 785.0 559.8C783.6 565.9 782.4 574.1 781.6 580.0C780.8 585.9 780.6 590.0 780.3 595.0C780.0 600.0 779.7 605.3 779.8 609.9C779.9 614.6 780.1 619.4 780.8 622.9C781.4 626.4 782.8 629.1 783.8 630.9C784.8 632.6 785.6 633.5 786.8 633.4C787.9 633.2 789.3 632.1 790.8 629.9C792.3 627.6 794.1 623.9 795.7 619.9C797.4 615.9 799.1 610.9 800.7 605.9C802.4 600.9 804.4 596.0 805.7 590.0C807.1 584.0 808.0 575.7 808.9 569.8C809.8 564.0 810.5 559.5 810.9 554.8C811.3 550.2 811.5 545.7 811.4 541.9C811.3 538.1 810.9 534.9 810.4 531.9C809.9 528.9 809.3 525.7 808.4 523.9C807.5 522.2 806.3 521.4 804.9 521.4Z"/>
<path stroke-width="1.40" d="M777.8 568.0C777.5 569.7 776.4 574.8 775.8 578.0C775.2 581.2 774.7 583.5 774.2 587.2C773.7 590.8 773.1 594.8 772.7 600.0C772.3 605.1 771.8 612.3 771.7 617.9C771.6 623.6 771.9 629.0 772.3 633.9C772.7 638.7 773.4 643.3 774.3 647.0C775.2 650.8 777.2 654.8 777.8 656.3M871.8 490.0C871.9 491.0 872.4 494.2 872.8 496.0C873.1 497.8 873.6 500.1 873.8 501.0"/>
<path stroke-width="1.70" d="M548.2 246.8L548.2 252.5L563.7 253.4L595.0 256.9L608.0 258.6M556.5 253.1L556.5 258.9M734.7 261.1L735.1 250.8L746.9 250.5M755.9 253.1C757.4 253.3 761.9 253.7 764.8 254.1C767.8 254.6 772.3 255.6 773.8 255.9C773.8 255.9 773.6 255.1 773.8 255.9C774.0 256.8 774.8 260.3 775.0 261.1C775.0 261.1 777.5 261.4 775.0 261.1C772.5 260.8 762.4 259.7 759.9 259.4C759.9 259.4 760.4 259.8 759.9 259.4C759.3 259.0 757.0 258.0 756.4 256.9C755.7 255.9 755.9 253.8 755.9 253.1M398.9 347.9C398.8 348.4 398.4 349.6 398.6 350.9C398.7 352.3 399.5 353.6 399.9 355.9C400.3 358.2 400.5 361.7 400.9 364.9C401.2 368.1 401.7 371.5 401.9 374.9C402.1 378.2 402.2 381.5 402.1 384.8C402.0 388.2 401.8 391.5 401.4 394.8C400.9 398.1 400.2 402.2 399.4 404.8C398.6 407.4 396.9 409.5 396.4 410.5M757.3 423.8C757.8 422.3 759.7 417.9 760.8 414.8C761.8 411.6 763.1 408.1 763.8 404.8C764.4 401.5 764.9 397.6 764.7 394.8C764.6 392.0 763.9 390.2 762.8 387.8C761.6 385.5 759.9 383.0 757.8 380.9C755.6 378.7 752.8 376.4 749.8 374.9C746.8 373.3 743.1 372.0 739.8 371.4C736.5 370.7 733.2 370.9 729.8 371.1C726.5 371.2 724.0 371.7 719.9 372.4C715.7 373.1 710.7 374.1 704.9 375.4C699.1 376.6 690.9 378.3 684.9 379.9C679.0 381.4 671.6 384.0 669.0 384.8C669.0 384.8 669.5 383.7 669.0 384.8C668.5 386.0 667.1 388.5 666.0 391.8C664.8 395.2 663.2 400.8 662.0 404.8C660.8 408.8 659.5 413.9 659.0 415.8M678.0 385.3C681.6 385.8 692.9 387.2 699.9 387.8C706.9 388.5 715.2 388.8 719.9 389.3C724.5 389.8 725.8 390.1 727.8 390.8C729.9 391.6 731.3 392.5 732.3 393.8C733.3 395.2 733.7 396.8 733.8 398.8C733.9 400.8 733.5 403.6 732.8 405.8C732.2 408.0 731.3 410.4 729.8 411.8C728.3 413.2 724.8 413.9 723.8 414.3C723.8 414.3 727.8 414.2 723.8 414.3C719.9 414.4 707.2 414.7 699.9 414.8C692.6 414.9 685.9 414.9 680.0 414.8C674.0 414.6 666.7 413.9 664.0 413.8"/>
<path stroke-width="1.70" d="M784.2 361.0C785.2 360.9 786.6 360.9 790.0 360.8C793.4 360.6 794.8 360.2 804.5 360.1C814.2 360.0 838.0 359.9 848.0 360.1C858.1 360.3 861.1 360.6 864.7 361.1C868.4 361.6 869.0 362.6 869.8 362.9M784.2 363.6C785.2 363.6 783.0 363.6 790.0 363.4C797.0 363.3 813.2 362.6 826.3 362.6C839.3 362.7 861.3 363.5 868.4 363.7M784.2 366.8C785.2 366.8 784.2 366.8 790.0 366.7C795.8 366.6 810.3 366.6 819.0 366.3C827.7 366.1 834.0 365.6 842.2 365.2C850.5 364.8 864.0 364.2 868.4 364.0M869.8 362.9C869.0 363.8 868.2 365.8 868.4 367.6C868.5 369.5 869.7 372.5 870.5 374.2C871.4 375.9 872.6 377.8 873.4 377.8C874.3 377.8 875.0 375.9 875.6 374.2C876.2 372.5 876.9 369.5 877.1 367.6C877.2 365.8 876.9 364.2 876.3 363.3C875.7 362.4 874.5 362.3 873.4 362.2C872.3 362.1 870.7 362.0 869.8 362.9ZM894.5 394.5C893.9 395.7 892.0 399.4 890.8 401.7C889.7 404.1 888.8 404.6 887.7 408.8C886.6 413.1 885.6 421.5 884.2 427.3C882.9 433.1 881.1 438.4 879.6 443.4C878.1 448.4 876.1 453.8 875.0 457.3C873.8 460.7 873.1 463.1 872.7 464.2M823.4 393.8C822.4 394.1 819.1 395.3 817.6 395.6C816.0 395.8 815.5 394.9 813.9 395.2C812.4 395.5 809.4 397.0 808.5 397.4C808.5 397.4 808.2 396.1 808.5 397.4C808.8 398.7 810.0 404.0 810.3 405.4C810.3 405.4 808.3 406.1 810.3 405.4C812.4 404.7 820.6 401.7 822.6 401.0M856.0 390.9C856.4 389.9 857.1 389.9 858.2 389.6C859.3 389.3 861.6 388.6 862.6 389.1C863.5 389.5 864.1 391.4 864.1 392.3C864.1 393.2 863.7 393.9 862.6 394.6C861.4 395.4 858.6 396.6 857.5 396.7C856.4 396.8 856.3 396.2 856.0 395.2C855.8 394.3 855.7 391.8 856.0 390.9Z"/>
<path stroke-width="1.70" d="M659.0 415.8C659.0 416.8 658.8 419.3 659.5 422.0C660.1 424.7 661.0 428.1 662.9 432.0C664.9 435.8 669.6 442.8 670.9 444.9C670.9 444.9 667.8 444.6 670.9 444.9C674.1 445.3 682.6 446.3 689.9 446.9C697.2 447.5 708.2 448.3 714.8 448.4C721.5 448.6 725.6 448.5 729.8 447.9C733.9 447.3 736.6 446.3 739.8 444.9C742.9 443.6 747.2 440.8 748.7 439.9C748.7 439.9 747.7 441.9 748.7 439.9C749.7 437.9 753.3 430.7 754.7 428.0C756.1 425.3 756.8 424.5 757.2 423.8M849.6 499.4L853.1 500.0M889.4 411.7C889.8 413.7 892.0 418.9 892.1 423.8C892.1 428.7 890.9 435.2 890.0 441.1C889.1 447.1 887.9 453.8 886.5 459.6C885.2 465.4 883.2 471.5 881.9 475.7C880.7 480.0 879.5 483.4 879.0 485.0C879.0 485.0 879.3 485.3 879.0 485.0C878.7 484.6 877.5 485.2 877.3 482.7C877.1 480.2 877.3 475.0 877.9 470.0C878.4 465.0 879.7 457.9 880.7 452.7C881.8 447.5 883.1 443.4 884.2 438.8C885.4 434.2 886.8 429.5 887.7 425.0C888.5 420.5 889.1 413.9 889.4 411.7M367.7 495.0C368.5 496.0 371.1 499.2 372.7 501.2C374.3 503.1 375.9 504.7 377.3 506.5C378.7 508.3 380.5 511.0 381.2 511.9M369.6 505.8C370.0 503.8 372.7 506.0 374.2 506.5C375.8 507.1 377.6 507.8 378.8 508.8C380.1 509.9 381.2 511.4 381.9 512.7C382.7 514.0 383.3 515.1 383.5 516.5C383.7 517.9 383.6 520.2 383.1 521.2C382.6 522.1 381.5 522.4 380.4 522.3C379.3 522.2 377.9 521.1 376.5 520.4C375.1 519.7 373.1 520.5 371.9 518.1C370.8 515.6 369.2 507.7 369.6 505.8ZM383.5 518.1C383.7 519.2 384.3 522.6 384.6 525.0C384.9 527.4 385.2 530.5 385.4 532.7C385.6 534.9 385.7 537.3 385.8 538.2C385.8 538.2 386.3 538.4 385.8 538.2C385.3 538.1 383.8 538.0 382.7 537.3C381.5 536.6 380.0 535.3 378.8 534.2C377.7 533.2 376.3 531.7 375.8 531.2"/>
<path stroke-width="1.70" d="M369.2 505.8C369.5 506.8 370.3 509.9 370.8 511.9C371.2 514.0 371.4 515.8 371.9 518.1C372.4 520.4 373.1 523.4 373.8 525.8C374.6 528.1 376.1 531.2 376.5 532.3M400.7 534.9L400.7 541.9M418.8 543.4C419.3 543.6 420.3 543.8 421.8 544.9C423.3 546.0 425.8 548.1 427.8 549.9C429.8 551.6 432.8 554.5 433.8 555.4C433.8 555.4 434.5 555.3 433.8 555.4C433.1 555.5 431.1 556.1 429.8 556.1C428.5 556.1 426.5 555.5 425.8 555.4C425.8 555.4 426.3 555.9 425.8 555.4C425.3 554.8 423.8 553.3 422.8 551.9C421.8 550.5 420.5 548.3 419.8 546.9C419.2 545.5 419.0 544.0 418.8 543.4M445.3 549.4C446.0 549.8 448.0 550.5 449.8 551.9C451.5 553.3 453.6 555.5 455.7 557.9C457.9 560.2 461.6 564.5 462.7 565.8C462.7 565.8 463.6 565.7 462.7 565.8C461.9 566.0 459.6 566.6 457.7 566.5C455.9 566.5 452.8 565.5 451.8 565.3C451.8 565.3 452.3 565.9 451.8 565.3C451.3 564.8 449.7 563.6 448.8 561.9C447.8 560.1 446.9 556.9 446.3 554.9C445.7 552.8 445.4 550.3 445.3 549.4M427.8 557.1C429.0 557.2 431.8 557.4 434.8 557.9C437.8 558.3 443.9 559.5 445.8 559.9M538.4 571.8C539.5 572.7 542.7 574.7 544.9 576.8C547.1 579.0 549.7 582.5 551.9 584.8C554.0 587.1 556.9 589.8 557.9 590.8M538.4 571.8C538.5 573.2 538.5 577.3 538.9 579.8C539.3 582.3 539.9 585.0 540.9 586.8C541.9 588.5 544.2 589.7 544.9 590.3M581.3 579.8C582.4 580.8 585.6 583.5 587.8 585.8C590.0 588.1 592.9 591.9 594.8 593.8C596.7 595.7 598.5 596.7 599.3 597.3M581.3 579.8C581.4 581.1 581.4 585.3 581.8 587.8C582.2 590.3 582.8 593.0 583.8 594.8C584.8 596.5 587.1 597.7 587.8 598.3M622.4 575.0C622.7 575.6 623.0 576.5 623.9 579.0C624.9 581.4 626.3 585.9 627.9 589.9C629.6 593.9 632.3 599.2 633.9 602.9C635.5 606.6 636.8 610.8 637.4 612.4"/>
<path stroke-width="1.70" d="M649.5 576.8L652.0 574.3C652.0 574.3 650.6 574.2 652.0 574.3C653.3 574.5 655.3 574.9 660.0 575.3C664.6 575.7 674.6 576.3 679.9 576.8C685.2 577.3 689.9 578.1 691.9 578.3C691.9 578.3 690.9 577.6 691.9 578.3C692.9 579.1 695.9 581.2 697.9 582.8C699.9 584.4 702.7 586.5 703.8 587.8C705.0 589.1 705.0 590.0 704.8 590.8C704.7 591.5 703.2 592.0 702.8 592.3C702.8 592.3 706.7 592.4 702.8 592.3C699.0 592.2 686.2 592.2 679.9 591.8C673.6 591.4 668.9 590.4 664.9 589.8C660.9 589.1 658.1 588.8 656.0 587.8C653.8 586.8 653.1 585.6 652.0 583.8C650.9 582.0 649.9 578.0 649.5 576.8"/>
<path stroke-width="2.30" d="M556.5 258.7L595.0 258.3L609.6 258.7"/>
<path stroke-width="1.60" d="M541.9 349.0L549.9 348.9"/>
</g>
<g id="leaders" fill="none" stroke="#000" stroke-linejoin="miter">
<path stroke="#fff" stroke-width="5.4" d="M564.7 182V317M784.1 182V411M404.5 505V713M533.3 446.5V713M828.1 530V713M806.5 408L856.1 438.3V713"/>
<path stroke-width="1.4" d="M564.7 179V318M784.1 179V412M404.5 503.5V717M533.3 445V717M828.1 528.5V717M805 407L856.1 438.3V717"/>
</g>
<g font-weight="bold" font-size="24px" text-anchor="middle">
<text x="562.8" y="173.3">1</text>
<text x="783" y="173.3">2</text>
<text x="405" y="738">6</text>
<text x="533" y="738">5</text>
<text x="826.3" y="738">4</text>
<text x="856" y="738">3</text>
</g>
<text x="1067.6" y="754.4" font-size="15.8px" text-anchor="end">001220</text>
</svg>
<ol class="list">
<li><span class="n" style="top:119.5px">1)</span>
<span class="t" style="top:119.5px;">Désembueur de lunette arrière</span>
<span class="t" style="top:140.5px;">(page 3-103)</span>
</li>
<li><span class="n" style="top:164.5px">2)</span>
<span class="t" style="top:164.5px;word-spacing:1.35px;">Volet et bouchon du réservoir de carbu-</span>
<span class="t" style="top:185.5px;">rant (page 7-5)</span>
</li>
<li><span class="n" style="top:209.5px">3)</span>
<span class="t" style="top:209.5px;">Verrous de sécurité pour enfants</span>
<span class="t" style="top:230.5px;">(page 2-29)</span>
</li>
<li><span class="n" style="top:254.5px">4)</span>
<span class="t" style="top:254.5px;">Trou d’arrimage (page 9-20)</span>
</li>
<li><span class="n" style="top:278.5px">5)</span>
<span class="t" style="top:278.5px;">Hayon (page 2-33)</span>
</li>
<li><span class="n" style="top:302.5px">6)</span>
<span class="t" style="top:302.5px;">Crochet de remorquage (page 9-20)</span>
</li>
</ol>
<div class="suite">– SUITE –</div>
</body>
</html>
